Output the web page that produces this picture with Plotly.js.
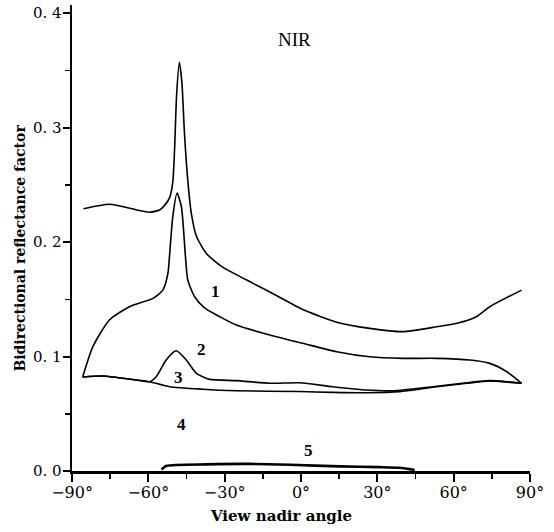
<!DOCTYPE html>
<html>
<head>
<meta charset="utf-8">
<script src="https://cdn.plot.ly/plotly-3.0.1.min.js"></script>
<style>html,body{margin:0;padding:0;background:#fff;}#chart{width:554px;height:532px;}</style>
</head>
<body>
<div id="chart"></div>
<script>
// View nadir angle (deg) and bidirectional reflectance factor
const curve1X = [-85.5,-75.3,-64.6,-59.5,-55.6,-53.6,-51.6,-50.4,-49.7,-48.9,-47.8,-46.8,-45.8,-44.5,-43.1,-41.1,-37.2,-30.8,-21.5,-11.1,0.7,14.0,27.0,40.0,53.4,61.3,69.1,74.2,86.7];
const curve1Y = [0.229,0.233,0.228,0.226,0.228,0.232,0.239,0.252,0.280,0.328,0.357,0.339,0.295,0.254,0.225,0.205,0.190,0.178,0.167,0.155,0.141,0.130,0.1246,0.1217,0.126,0.129,0.135,0.1435,0.158];

const curve2X = [-85.8,-81.8,-75.3,-67.4,-58.2,-54.3,-52.3,-51.7,-50.4,-48.7,-47.0,-45.4,-44.5,-41.8,-37.9,-32.0,-25.4,-12.3,0.7,14.0,27.0,40.0,53.4,66.4,74.2,80.9,86.7];
const curve2Y = [0.0821,0.1086,0.1319,0.1435,0.1508,0.158,0.1727,0.187,0.222,0.2428,0.2308,0.187,0.1668,0.1522,0.1424,0.1348,0.1275,0.1188,0.1115,0.1042,0.0998,0.0984,0.0984,0.0969,0.094,0.0867,0.0766];

const curve3X = [-85.8,-78.0,-64.7,-59.5,-56.9,-53.0,-49.0,-45.1,-41.1,-35.9,-25.4,-12.3,-0.5,12.5,25.8,36.1,51.8,65.2,74.2,80.9,86.7];
const curve3Y = [0.0821,0.083,0.0795,0.078,0.0824,0.097,0.1050,0.097,0.0853,0.080,0.0789,0.0766,0.0771,0.0736,0.0707,0.0701,0.0736,0.0771,0.0789,0.078,0.0766];

const curve4X = [-85.8,-78.0,-64.7,-59.5,-51.7,-38.7,-25.4,-0.5,12.5,25.8,38.8,51.8,65.2,74.2,80.9,86.7];
const curve4Y = [0.0821,0.083,0.0795,0.078,0.0736,0.0714,0.0701,0.0694,0.0687,0.0684,0.0693,0.0731,0.0766,0.0786,0.0777,0.0766];

const curve5X = [-54.8,-52.8,-37.1,-20.2,-4.4,15.2,31.0,38.8,44.7];
const curve5Y = [0.0013,0.0045,0.0058,0.0062,0.0054,0.0040,0.0034,0.0028,0.0009];

const xTickVals = [-90,-60,-30,0,30,60,90];
const xTickText = ['\u221290\u00b0','\u221260\u00b0','\u221230\u00b0','0\u00b0','30\u00b0','60\u00b0','90\u00b0'];
const yTickVals = [0,0.1,0.2,0.3,0.4];
const yTickText = ['0.\u00a00','0.\u00a01','0.\u00a02','0.\u00a03','0.\u00a04'];

const curveLabels = ['1','2','3','4','5'];
const labelX = [-33.7,-39.2,-48.1,-47.0,2.8];
const labelY = [0.1566,0.1063,0.0818,0.0408,0.0183];

const lineStyle = {color:'#000', width:1.6, shape:'spline', smoothing:0.6};
const traces = [
  {x:curve1X, y:curve1Y, mode:'lines', line:lineStyle},
  {x:curve2X, y:curve2Y, mode:'lines', line:lineStyle},
  {x:curve3X, y:curve3Y, mode:'lines', line:lineStyle},
  {x:curve4X, y:curve4Y, mode:'lines', line:lineStyle},
  {x:curve5X, y:curve5Y, mode:'lines', line:{color:'#000', width:2.6, shape:'spline', smoothing:0.6}}
];

const serif = 'Liberation Serif, Times New Roman, serif';
const wide = 'DejaVu Serif, serif';
const annotations = curveLabels.map((t,i)=>({x:labelX[i], y:labelY[i], text:'<b>'+t+'</b>', showarrow:false, font:{family:serif, size:17, color:'#000'}}));
annotations.push({x:-2.5, y:0.377, text:'NIR', showarrow:false, font:{family:serif, size:19, color:'#000'}});
annotations.push({xref:'paper', yref:'paper', x:0.457, y:-0.072, xanchor:'center', yanchor:'top', text:'<b>View nadir angle</b>', showarrow:false, font:{family:wide, size:15, color:'#000'}});
annotations.push({xref:'paper', yref:'paper', x:-0.114, y:0.479, xanchor:'center', yanchor:'middle', textangle:-90, text:'<b>Bidirectional reflectance factor</b>', showarrow:false, font:{family:wide, size:14, color:'#000'}});

const layout = {
  width:554, height:532,
  margin:{l:72, r:24, t:5, b:61},
  paper_bgcolor:'#fff', plot_bgcolor:'#fff',
  showlegend:false,
  xaxis:{
    range:[-90,90], showgrid:false, zeroline:false,
    showline:true, linecolor:'#000', linewidth:3,
    ticks:'outside', ticklen:8, tickwidth:2, tickcolor:'#000',
    tickvals:xTickVals, ticktext:xTickText,
    minor:{dtick:15, ticks:'outside', ticklen:5, tickwidth:1.5, tickcolor:'#000'},
    tickfont:{family:wide, size:16, color:'#000'},
    ticklabelstandoff:-3
  },
  yaxis:{
    range:[0,0.407], showgrid:false, zeroline:false,
    showline:true, linecolor:'#000', linewidth:2.5,
    ticks:'outside', ticklen:7, tickwidth:2, tickcolor:'#000',
    tickvals:yTickVals, ticktext:yTickText,
    minor:{dtick:0.05, ticks:'outside', ticklen:5, tickwidth:1.5, tickcolor:'#000'},
    tickfont:{family:wide, size:15, color:'#000'},
    ticklabelstandoff:-2
  },
  annotations:annotations
};

Plotly.newPlot('chart', traces, layout, {staticPlot:true, displayModeBar:false});
</script>
</body>
</html>
